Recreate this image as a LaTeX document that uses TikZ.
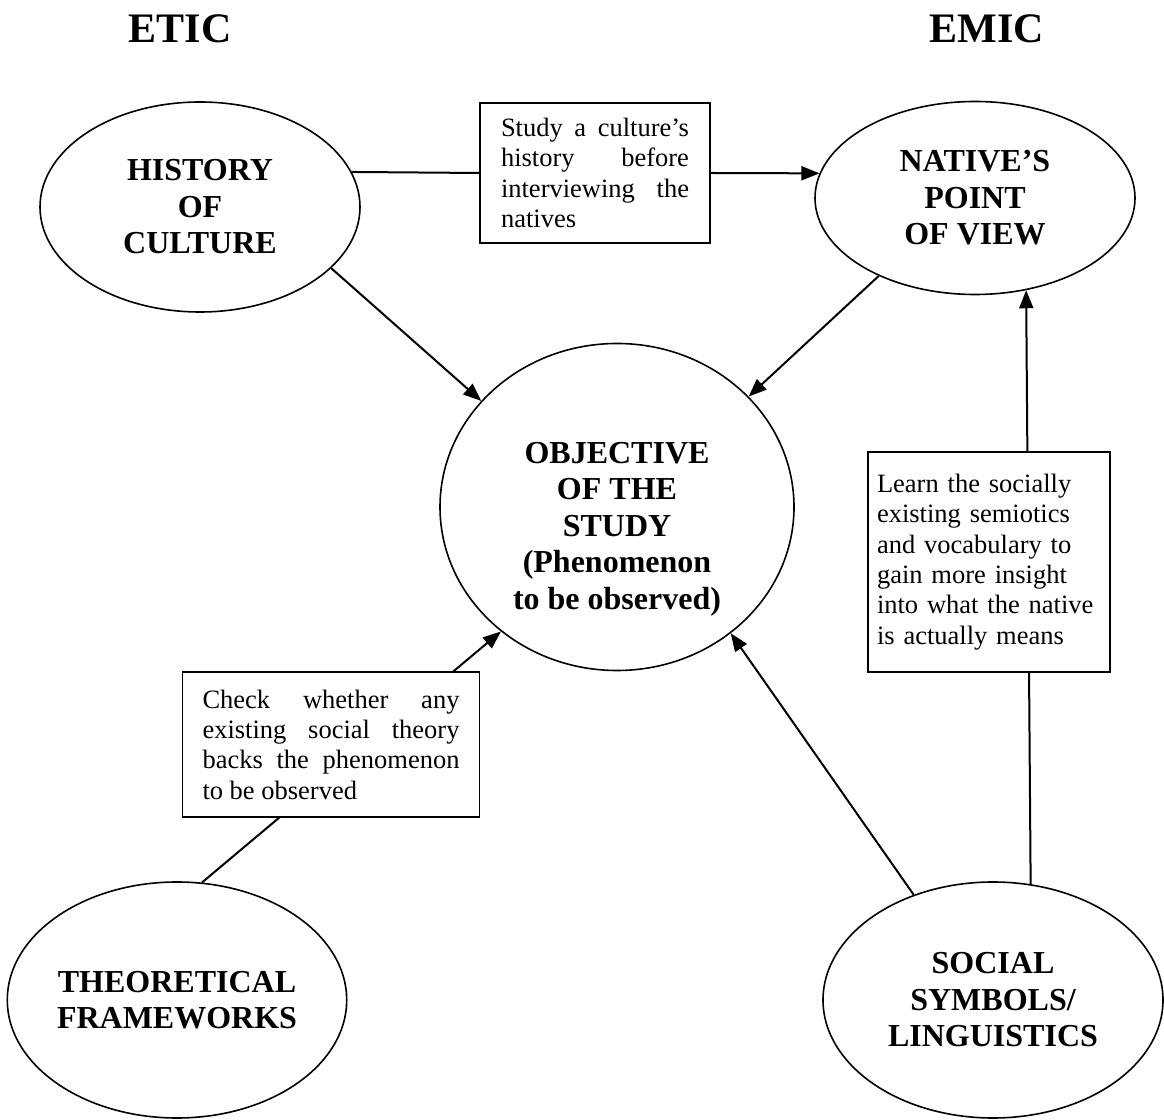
\documentclass[tikz,border=0pt]{standalone}
\usepackage{fontspec}
\setmainfont{Liberation Serif}
\usetikzlibrary{shapes.geometric,arrows.meta}
\begin{document}
\begin{tikzpicture}[x=1pt,y=1pt,
    bubble/.style={ellipse,draw,line width=1.6pt,inner sep=0pt,align=center,
        font=\bfseries\fontsize{32}{36.5}\selectfont},
    bubbletext/.style={align=center,inner sep=0pt,
        font=\bfseries\fontsize{32}{36.5}\selectfont},
    notebox/.style={rectangle,draw,line width=1.8pt,fill=white,
        font=\fontsize{26.5}{30.3}\selectfont},
    link/.style={line width=2pt},
    arrowlink/.style={link,-{Triangle[length=18pt,width=14pt]}},
    heading/.style={anchor=base,font=\bfseries\fontsize{42}{50}\selectfont}]
    \useasboundingbox (0,0) rectangle (1164,1119);
    \fill[white] (0,0) rectangle (1164,1119);
    \node[heading] (etic) at (180,1076) {ETIC};
    \node[heading] (emic) at (987,1076) {EMIC};
    \node[bubble,minimum width=320pt,minimum height=210pt] (hist) at (200,912) {HISTORY\\OF\\CULTURE};
    \node[bubble,minimum width=320pt,minimum height=193pt] (native) at (975,921) {NATIVE'S\\POINT\\OF VIEW};
    \node[bubble,minimum width=354pt,minimum height=327pt] (obj) at (617,612) {};
    \node[bubbletext] (objtext) at ([yshift=-22pt]obj.center)
        {OBJECTIVE\\OF THE\\STUDY\\(Phenomenon\\to be observed)};
    \node[bubble,minimum width=328pt,minimum height=236pt] (theo) at (177,119) {THEORETICAL\\FRAMEWORKS};
    \node[bubble,minimum width=340pt,minimum height=236pt] (social) at (993,119) {SOCIAL\\SYMBOLS/\\LINGUISTICS};
    \node[notebox,text width=188pt,inner xsep=21pt,minimum height=140pt,align=justify] (studybox) at (595,946)
        {Study a culture's\linebreak history before\linebreak interviewing the\linebreak natives};
    \draw[link] (hist.13) -- (studybox.west);
    \draw[arrowlink] (studybox.east) -- (native.171);
    \draw[arrowlink] (hist.-25) -- (obj.142);
    \draw[arrowlink] (native.219) -- (obj.40.5);
    \draw[arrowlink] (theo.78) -- (obj.227);
    \draw[arrowlink] (social.127) -- (obj.-48);
    \draw[arrowlink] (social.72) -- (native.-61.4);
    \node[notebox,text width=257pt,inner xsep=20pt,minimum height=145pt,align=justify] (checkbox) at (331,374.5)
        {Check whether any\linebreak existing social theory\linebreak backs the phenomenon\linebreak to be observed};
    \node[notebox,text width=224pt,inner xsep=9pt,minimum height=220pt,align=left] (learnbox) at (989,557)
        {Learn the socially\\existing semiotics\\and vocabulary to\\gain more insight\\into what the native\\is actually means};
\end{tikzpicture}
\end{document}
